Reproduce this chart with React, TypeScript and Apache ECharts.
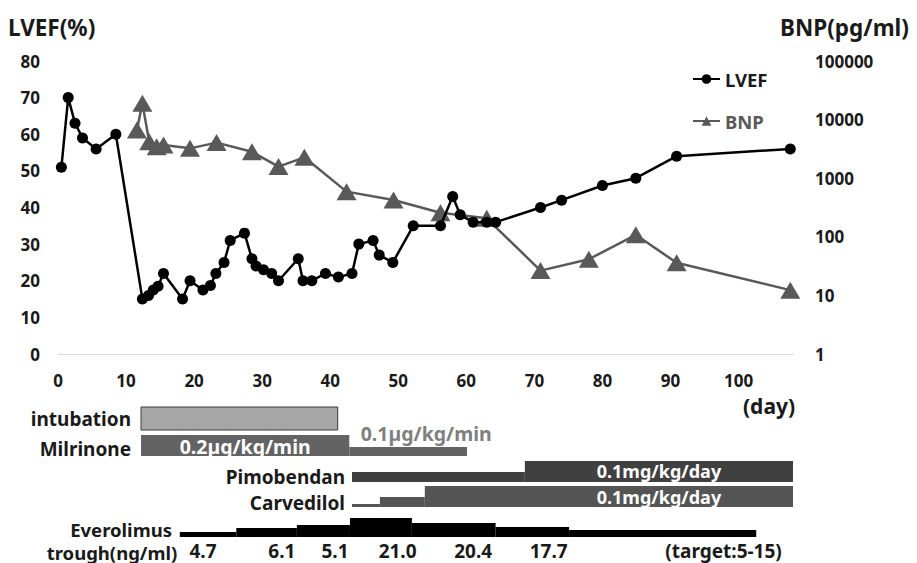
import React, { useEffect, useRef } from "react";
import * as echarts from "echarts";

// ---------- data ----------
const lvefDays = [0.5, 1.5, 2.5, 3.6, 5.6, 8.5, 12.4, 13.3, 14.0, 14.7, 15.5, 18.3, 19.4, 21.3, 22.4, 23.2, 24.4, 25.3, 27.4, 28.5, 29.1, 30.2, 31.4, 32.4, 35.3, 36.0, 37.3, 39.3, 41.2, 43.2, 44.2, 46.3, 47.2, 49.2, 52.2, 56.2, 58.0, 59.1, 61.0, 63.0, 64.3, 70.9, 74.0, 80.0, 84.9, 90.9, 107.6];
const lvefValues = [51, 70, 63, 59, 56, 60, 15, 16, 17.5, 18.5, 22, 15, 20, 17.5, 18.7, 22, 25, 31, 33, 26, 24, 23, 22, 20, 26, 20, 20, 22, 21, 22, 30, 31, 27, 25, 35, 35, 43, 38, 36, 36, 36, 40, 42, 46, 48, 54, 56];

const bnpDays = [11.6, 12.4, 13.4, 14.5, 15.5, 19.4, 23.3, 28.5, 32.4, 36.2, 42.4, 49.3, 56.2, 63.0, 70.9, 78.0, 84.9, 90.9, 107.6];
const bnpValues = [6650, 19000, 4200, 3450, 3700, 3230, 4050, 2820, 1580, 2270, 590, 424, 258, 207, 26.5, 41.4, 108, 36, 12.3];

const intubationPeriods = [[12.2, 41.1]];
const milrinonePeriods = [[12.2, 42.8], [42.8, 60.1]];
const milrinoneDoses = ["0.2µg/kg/min", "0.1µg/kg/min"];
const milrinoneDoseDays = [27.5, 54.1];
const pimobendanPeriods = [[43.2, 68.6], [68.6, 108]];
const pimobendanDose = "0.1mg/kg/day";
const carvedilolPeriods = [[43.2, 47.3], [47.3, 53.9], [53.9, 108]];
const carvedilolDose = "0.1mg/kg/day";
const doseLabelDay = 88.3;
const everolimusPeriods = [[17.9, 26.2], [26.2, 35.1], [35.1, 42.9], [42.9, 52.0], [52.0, 64.3], [64.3, 75.1], [75.1, 102.6]];
const everolimusTroughs = ["4.7", "6.1", "5.1", "21.0", "20.4", "17.7"];
const troughDays = [21.3, 32.9, 40.7, 49.9, 61.0, 72.1];
const targetNote = "(target:5-15)";
const targetDay = 97.8;

// ---------- styles / layout ----------
const FONT = '"Noto Sans", "DejaVu Sans", sans-serif';
const TXT = "#1a1a1a";
const rows: Record<string, { bottom: number; tops: number[]; fill: string; stroke?: string }> = {
  intubation: { bottom: 430, tops: [407], fill: "#a6a6a6", stroke: "#3a3a3a" },
  milrinone: { bottom: 456, tops: [435, 447], fill: "#636363" },
  pimobendan: { bottom: 482, tops: [472, 461], fill: "#404040" },
  carvedilol: { bottom: 507, tops: [504, 497, 486], fill: "#555555" },
  everolimus: { bottom: 537, tops: [532, 528, 525, 518, 523, 527, 530], fill: "#000000" },
};

function rowSeries(name: string, periods: number[][]) {
  const row = rows[name];
  return {
    type: "custom",
    name: "row-" + name,
    clip: false,
    silent: true,
    z: 3,
    encode: { x: [0, 1], y: 2 },
    data: periods.map((p) => [p[0], p[1], 0]),
    renderItem: (params: any, api: any) => {
      const x0 = api.coord([api.value(0), 0])[0];
      const x1 = api.coord([api.value(1), 0])[0];
      const top = row.tops[params.dataIndex];
      return {
        type: "rect",
        shape: { x: x0, y: top, width: x1 - x0, height: row.bottom - top },
        style: { fill: row.fill, stroke: row.stroke || null, lineWidth: row.stroke ? 1 : 0 },
      };
    },
  };
}

function textSeries(name: string, days: number[], texts: string[], ys: number[], colors: string[], size: number) {
  return {
    type: "custom",
    name: "txt-" + name,
    clip: false,
    silent: true,
    z: 5,
    encode: { x: 0, y: 1 },
    data: days.map((d) => [d, 0]),
    renderItem: (params: any, api: any) => {
      const x = api.coord([api.value(0), 0])[0];
      const i = params.dataIndex;
      return {
        type: "text",
        x,
        y: ys[i],
        style: {
          text: texts[i],
          fill: colors[i],
          fontSize: size,
          fontWeight: "bold",
          fontFamily: FONT,
          align: "center",
          verticalAlign: "middle",
        },
      };
    },
  };
}

function label(text: string, x: number, y: number, align: string, size = 19, color = TXT) {
  return {
    type: "text",
    x,
    y,
    style: { text, fill: color, fontSize: size, fontWeight: "bold", fontFamily: FONT, align, verticalAlign: "middle" },
  };
}

export default function App() {
  const ref = useRef<HTMLDivElement>(null);
  useEffect(() => {
    if (!ref.current) return;
    const chart = echarts.init(ref.current, null, { renderer: "svg" });
    const axisLabel = { fontSize: 17, fontWeight: "bold", color: TXT, fontFamily: FONT };
    chart.setOption({
      animation: false,
      backgroundColor: "#ffffff",
      grid: { left: 58, right: 124, top: 61, bottom: 209, containLabel: false },
      legend: {
        orient: "vertical",
        left: 687,
        top: 64,
        itemWidth: 27,
        itemHeight: 12,
        itemGap: 22,
        textStyle: { fontSize: 18.5, fontWeight: "bold", fontFamily: FONT, lineHeight: 20 },
        data: [
          { name: "LVEF", textStyle: { color: TXT } },
          { name: "BNP", textStyle: { color: "#595959" } },
        ],
      },
      xAxis: {
        type: "value",
        min: 0,
        max: 108,
        interval: 10,
        axisLine: { show: true, lineStyle: { color: "#d9d9d9", width: 1 } },
        axisTick: { show: false },
        splitLine: { show: false },
        axisLabel: { ...axisLabel, margin: 18, formatter: (v: number) => (v % 10 === 0 ? String(v) : "") },
      },
      yAxis: [
        {
          type: "value",
          min: 0,
          max: 80,
          interval: 10,
          axisLine: { show: false },
          axisTick: { show: false },
          splitLine: { show: false },
          axisLabel: { ...axisLabel, margin: 18 },
        },
        {
          type: "log",
          logBase: 10,
          min: 1,
          max: 100000,
          position: "right",
          axisLine: { show: false },
          axisTick: { show: false },
          splitLine: { show: false },
          axisLabel: { ...axisLabel, margin: 22, formatter: (v: number) => String(Math.round(v)) },
        },
      ],
      series: [
        {
          name: "BNP",
          type: "line",
          yAxisIndex: 1,
          data: bnpDays.map((d, i) => [d, bnpValues[i]]),
          symbol: "triangle",
          symbolSize: [20, 17],
          itemStyle: { color: "#595959" },
          lineStyle: { color: "#595959", width: 2.5 },
          z: 2,
        },
        {
          name: "LVEF",
          type: "line",
          yAxisIndex: 0,
          data: lvefDays.map((d, i) => [d, lvefValues[i]]),
          symbol: "circle",
          symbolSize: 11,
          itemStyle: { color: "#000000" },
          lineStyle: { color: "#000000", width: 2.5 },
          z: 3,
        },
        rowSeries("intubation", intubationPeriods),
        rowSeries("milrinone", milrinonePeriods),
        rowSeries("pimobendan", pimobendanPeriods),
        rowSeries("carvedilol", carvedilolPeriods),
        rowSeries("everolimus", everolimusPeriods),
        textSeries("milrinone", milrinoneDoseDays, milrinoneDoses, [446, 433], ["#ffffff", "#7f7f7f"], 19.5),
        textSeries("pimo", [doseLabelDay], [pimobendanDose], [471], ["#ffffff"], 18),
        textSeries("carv", [doseLabelDay], [carvedilolDose], [497], ["#ffffff"], 18),
        textSeries(
          "trough",
          [...troughDays, targetDay],
          [...everolimusTroughs, targetNote],
          [...troughDays.map(() => 551), 551],
          [...troughDays.map(() => TXT), TXT],
          19
        ),
      ],
      graphic: [
        label("LVEF(%)", 8, 27, "left", 22.5),
        label("BNP(pg/ml)", 780, 27, "left", 22.5),
        label("(day)", 743, 406, "left", 21),
        label("intubation", 131, 419, "right"),
        label("Milrinone", 131, 449, "right"),
        label("Pimobendan", 345, 477, "right"),
        label("Carvedilol", 345, 503, "right"),
        label("Everolimus", 172, 529, "right", 18.5),
        label("trough(ng/ml)", 112, 552, "center", 18.5),
      ],
    });
    return () => chart.dispose();
  }, []);
  return <div ref={ref} style={{ position: "fixed", left: 0, top: 0, width: 917, height: 563, background: "#fff" }} />;
}
